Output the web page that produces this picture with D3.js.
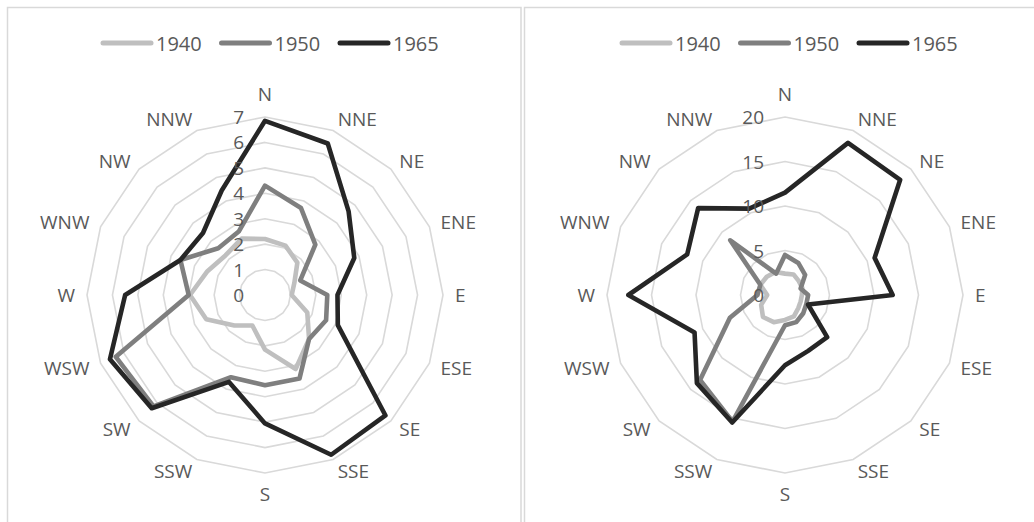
<!DOCTYPE html>
<html>
<head>
<meta charset="utf-8">
<script src="https://cdn.jsdelivr.net/npm/d3@7"></script>
<style>
  html, body { margin: 0; padding: 0; background: #fff; }
  svg { display: block; font-family: "Open Sans", "Noto Sans", sans-serif; }
</style>
</head>
<body>
<svg id="chart" width="1034" height="522"></svg>
<script>
// Compass sectors, clockwise from north
const directions = ["N","NNE","NE","ENE","E","ESE","SE","SSE","S","SSW","SW","WSW","W","WNW","NW","NNW"];
const seriesNames = ["1940","1950","1965"];
const seriesColors = ["#bfbfbf","#7f7f7f","#262626"];

// Left rose: radial ticks and values
const leftTicks = [0,1,2,3,4,5,6,7];
const left1940 = [2.2,2.1,1.8,1.25,1.05,1.8,2.45,3.15,2.15,1.3,1.7,2.5,2.95,2.45,2.2,2.4];
const left1950 = [4.3,3.7,2.8,1.5,2.45,2.6,2.45,3.55,3.55,3.5,6.2,6.35,3.0,3.6,2.6,2.7];
const left1965 = [6.85,6.45,4.65,3.8,2.85,3.1,6.7,6.8,5.05,3.7,6.3,6.6,5.5,3.6,3.45,4.45];

// Right rose: radial ticks and values
const rightTicks = [0,5,10,15,20];
const right1940 = [2.4,2.5,2.2,2.1,1.9,1.9,2.1,2.6,2.8,3.3,3.5,2.9,2.0,3.0,2.9,2.8];
const right1950 = [4.5,3.9,3.2,1.9,2.6,2.6,2.9,3.3,3.4,15.4,13.5,6.7,3.1,3.0,8.7,2.6];
const right1965 = [11.5,18.5,18.3,10.9,12.1,2.8,6.7,6.8,7.9,15.5,14.0,11.0,17.6,11.9,13.8,10.5];

const svg = d3.select("#chart");
const W = 1034, H = 522;
svg.append("rect").attr("width", W).attr("height", H).attr("fill", "#fff");

// Panel frames
svg.append("rect").attr("x", 7.5).attr("y", 7.5).attr("width", 513.5).attr("height", 600)
  .attr("fill", "none").attr("stroke", "#d9d9d9").attr("stroke-width", 1.5);
svg.append("rect").attr("x", 524.5).attr("y", 7.5).attr("width", 520).attr("height", 600)
  .attr("fill", "none").attr("stroke", "#d9d9d9").attr("stroke-width", 1.5);

const R = 178;
const TEXT = "#595959";
const angle = d3.scalePoint().domain(directions).range([0, 2 * Math.PI * (15 / 16)]);

function drawRose(cx, cy, ticks, series, legendX) {
  const g = svg.append("g").attr("transform", `translate(${cx},${cy})`);
  const r = d3.scaleLinear().domain([0, d3.max(ticks)]).range([0, R]);

  // concentric 16-sided grid rings
  ticks.filter(t => t > 0).forEach(t => {
    const line = d3.lineRadial().curve(d3.curveLinearClosed)
      .angle(d => angle(d)).radius(() => r(t));
    g.append("path").attr("d", line(directions))
      .attr("fill", "none").attr("stroke", "#d9d9d9").attr("stroke-width", 1.6);
  });

  // series outlines
  series.forEach((vals, i) => {
    const line = d3.lineRadial().curve(d3.curveLinearClosed)
      .angle((d, k) => angle(directions[k])).radius(d => r(d));
    g.append("path").attr("d", line(vals))
      .attr("fill", "none").attr("stroke", seriesColors[i])
      .attr("stroke-width", 4.6).attr("stroke-linejoin", "round");
  });

  // radial value labels
  g.selectAll("text.tick").data(ticks).join("text")
    .attr("class", "tick")
    .attr("x", -21).attr("y", d => -r(d))
    .attr("text-anchor", "end").attr("dominant-baseline", "central")
    .attr("fill", TEXT).attr("font-size", 19)
    .text(d => d);

  // direction labels
  const lr = 190;
  g.selectAll("text.dir").data(directions).join("text")
    .attr("class", "dir")
    .attr("x", d => lr * Math.sin(angle(d)))
    .attr("y", d => {
      const c = Math.cos(angle(d));
      let y = -lr * c;
      if (c > 0.99) y -= 11;
      if (c < -0.99) y += 9;
      return y;
    })
    .attr("text-anchor", d => {
      const s = Math.sin(angle(d));
      return s > 0.01 ? "start" : (s < -0.01 ? "end" : "middle");
    })
    .attr("dominant-baseline", "central")
    .attr("fill", TEXT).attr("font-size", 19)
    .text(d => d);

  // legend
  const lg = svg.append("g").attr("transform", `translate(${legendX},43)`);
  seriesNames.forEach((name, i) => {
    const x0 = i * 118.5;
    lg.append("line").attr("x1", x0 + 2).attr("x2", x0 + 50).attr("y1", 0).attr("y2", 0)
      .attr("stroke", seriesColors[i]).attr("stroke-width", 5).attr("stroke-linecap", "round");
    lg.append("text").attr("x", x0 + 55).attr("y", 0)
      .attr("dominant-baseline", "central").attr("fill", TEXT).attr("font-size", 20)
      .text(name);
  });
}

drawRose(265, 295, leftTicks, [left1940, left1950, left1965], 101);
drawRose(785, 295, rightTicks, [right1940, right1950, right1965], 620);
</script>
</body>
</html>
